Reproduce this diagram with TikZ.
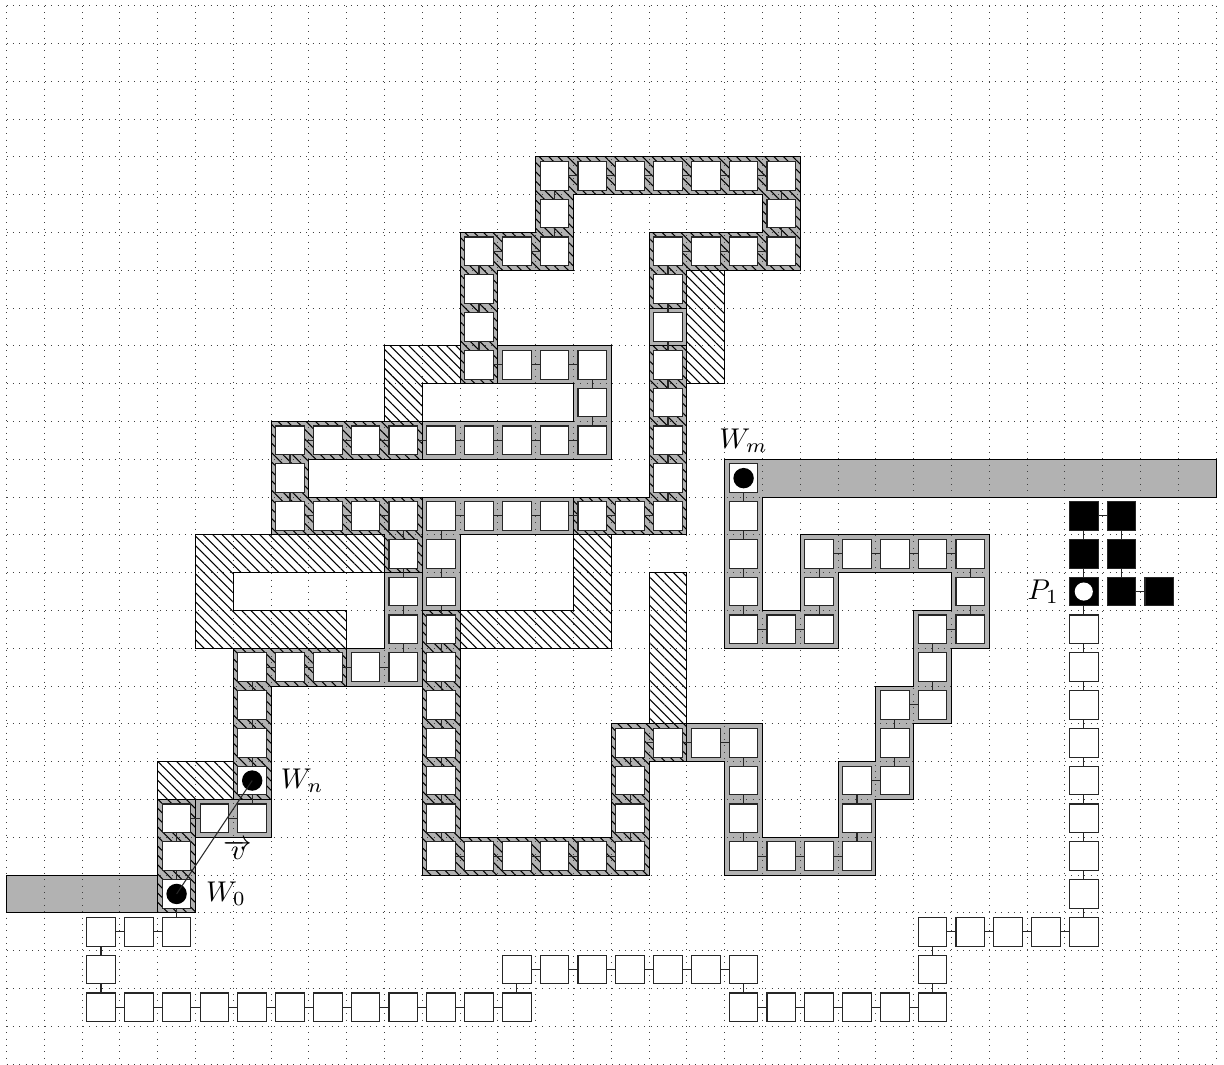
\documentclass[tikz,border=0pt]{standalone}
\usetikzlibrary{patterns.meta}
\definecolor{corr}{gray}{0.7}
\tikzset{
  griddot/.style={line width=.7pt,dash pattern=on .7pt off 4.1pt,black!75},
  edgeline/.style={draw=black,line width=.8pt,line join=miter},
  hatchlines/.style={pattern={Lines[angle=-45,distance=5pt,line width=.8pt]},pattern color=black},
  cellbox/.style={draw=black!85,fill=white,line width=.8pt,inner sep=0pt,minimum size=0.76cm,rectangle},
  blackbox/.style={cellbox,fill=black},
  link/.style={line width=.8pt,black!85},
  dotb/.style={circle,fill=black,inner sep=0pt,minimum size=0.54cm},
  dotw/.style={circle,fill=white,inner sep=0pt,minimum size=0.48cm},
  lab/.style={inner sep=0pt,scale=2.15},
  % plain corridors
  shGA/.style={insert path={(0,23)--(4,23)--(4,24)--(0,24)--cycle}},
  shGB/.style={insert path={(5,21)--(7,21)--(7,22)--(5,22)--cycle}},
  shGC/.style={insert path={(10,15)--(11,15)--(11,18)--(9,18)--(9,17)--(10,17)--cycle}},
  shGD/.style={insert path={(13,9)--(16,9)--(16,12)--(11,12)--(11,11)--(15,11)--(15,10)--(13,10)--cycle}},
  shGE/.style={insert path={(17,8)--(18,8)--(18,9)--(17,9)--cycle}},
  shGF/.style={insert path={(11,13)--(15,13)--(15,14)--(12,14)--(12,16)--(11,16)--cycle}},
  shGG/.style={insert path={(19,12)--(32,12)--(32,13)--(20,13)--(20,16)--(21,16)--(21,14)--(26,14)--(26,17)--(25,17)--(25,19)--(24,19)--(24,21)--(23,21)--(23,23)--(19,23)--(19,20)--(18,20)--(18,19)--(20,19)--(20,22)--(22,22)--(22,20)--(23,20)--(23,18)--(24,18)--(24,16)--(25,16)--(25,15)--(22,15)--(22,17)--(19,17)--cycle}},
  % hatched corridors
  shHA/.style={insert path={(4,21)--(5,21)--(5,24)--(4,24)--cycle}},
  shHB/.style={insert path={(6,17)--(9,17)--(9,18)--(7,18)--(7,21)--(6,21)--cycle}},
  shHC/.style={insert path={(7,11)--(11,11)--(11,12)--(8,12)--(8,13)--(11,13)--(11,15)--(10,15)--(10,14)--(7,14)--cycle}},
  shHD/.style={insert path={(14,4)--(21,4)--(21,7)--(18,7)--(18,8)--(17,8)--(17,6)--(20,6)--(20,5)--(15,5)--(15,7)--(13,7)--(13,10)--(12,10)--(12,6)--(14,6)--cycle}},
  shHE/.style={insert path={(17,9)--(18,9)--(18,14)--(15,14)--(15,13)--(17,13)--cycle}},
  shHF/.style={insert path={(11,16)--(12,16)--(12,22)--(16,22)--(16,19)--(18,19)--(18,20)--(17,20)--(17,23)--(11,23)--cycle}},
  % hatch only
  shKA/.style={insert path={(4,20)--(6,20)--(6,21)--(4,21)--cycle}},
  shKB/.style={insert path={(5,14)--(10,14)--(10,15)--(6,15)--(6,16)--(9,16)--(9,17)--(5,17)--cycle}},
  shKC/.style={insert path={(15,14)--(16,14)--(16,17)--(12,17)--(12,16)--(15,16)--cycle}},
  shKD/.style={insert path={(17,15)--(18,15)--(18,19)--(17,19)--cycle}},
  shKE/.style={insert path={(18,7)--(19,7)--(19,10)--(18,10)--cycle}},
  shKF/.style={insert path={(10,9)--(12,9)--(12,10)--(11,10)--(11,11)--(10,11)--cycle}}
}
\newcommand\chain[4]{%
  \foreach \cx/\ry [remember=\cx as \pc (initially #2), remember=\ry as \pr (initially #3)] in {#4}{%
    \node[#1] (n\cx-\ry) at (\cx+.5,\ry+.5) {};
    \draw[link] (n\pc-\pr) -- (n\cx-\ry);
  }%
}
\begin{document}
\begin{tikzpicture}[yscale=-1]
\useasboundingbox (-0.172,-0.15) rectangle (32.21,28);
% gray fills
\foreach \s in {GA,GB,GC,GD,GE,GF,GG,HA,HB,HC,HD,HE,HF}{\path[fill=corr,sh\s];}
% grid
\draw[griddot] (0,0) grid (32,28);
% hatching
\foreach \s in {HA,HB,HC,HD,HE,HF,KA,KB,KC,KD,KE,KF}{\path[hatchlines,sh\s];}
% outlines
\foreach \s in {GA,GB,GC,GD,GE,GF,GG,HA,HB,HC,HD,HE,HF,KA,KB,KC,KD,KE,KF}{\path[edgeline,sh\s];}
% cells and their connectors
\node[cellbox] (n19-12) at (19.5,12.5) {};
\chain{cellbox}{19}{12}{19/13,19/14,19/15,19/16,20/16,21/16,21/15,21/14,22/14,23/14,24/14,25/14,25/15,25/16,24/16,24/17,24/18,23/18,23/19,23/20,22/20,22/21,22/22,21/22,20/22,19/22,19/21,19/20,19/19,18/19,17/19,16/19,16/20,16/21,16/22,15/22,14/22,13/22,12/22,11/22,11/21,11/20,11/19,11/18,11/17,11/16,11/15,11/14,11/13,12/13,13/13,14/13,15/13,16/13,17/13,17/12,17/11,17/10,17/9,17/8,17/7,17/6,18/6,19/6,20/6,20/5,20/4,19/4,18/4,17/4,16/4,15/4,14/4,14/5,14/6,13/6,12/6,12/7,12/8,12/9,13/9,14/9,15/9,15/10,15/11,14/11,13/11,12/11,11/11,10/11,9/11,8/11,7/11,7/12,7/13,8/13,9/13,10/13,10/14,10/15,10/16,10/17,9/17,8/17,7/17,6/17,6/18,6/19,6/20,6/21,5/21,4/21,4/22,4/23,4/24,3/24,2/24,2/25,2/26,3/26,4/26,5/26,6/26,7/26,8/26,9/26,10/26,11/26,12/26,13/26,13/25,14/25,15/25,16/25,17/25,18/25,19/25,19/26,20/26,21/26,22/26,23/26,24/26,24/25,24/24,25/24,26/24,27/24,28/24,28/23,28/22,28/21,28/20,28/19,28/18,28/17,28/16}
\chain{blackbox}{28}{16}{28/15,28/14,28/13,29/13,29/14,29/15,30/15}
% marks on the cells
\node[dotb] (w0) at (n4-23) {};
\node[dotb] (wn) at (n6-20) {};
\node[dotb] (wm) at (n19-12) {};
\node[dotw] (p1) at (n28-15) {};
\draw[link] (w0.center) -- (wn.center);
% labels
\node[lab,anchor=west] (lw0) at ([xshift=.37cm]n4-23.east) {$W_0$};
\node[lab,anchor=west] (lwn) at ([xshift=.35cm]n6-20.east) {$W_n$};
\node[lab,anchor=south] (lwm) at ([yshift=-.27cm]n19-12.north) {$W_m$};
\node[lab,anchor=east] (lp1) at ([xshift=-.25cm]n28-15.west) {$P_1$};
\node[lab] (lv) at ([xshift=-.37cm,yshift=.83cm]n6-21.center) {$\overrightarrow{v}$};
\end{tikzpicture}
\end{document}
